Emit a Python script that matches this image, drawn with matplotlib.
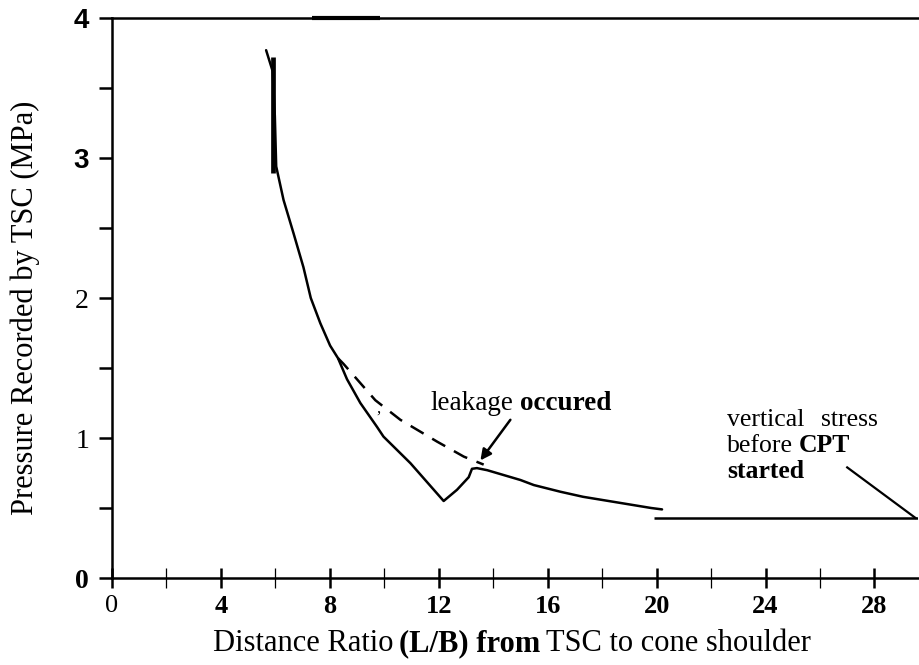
import matplotlib
matplotlib.use("Agg")
import matplotlib.pyplot as plt

SERIF = "Liberation Serif"
SANS = "Liberation Sans"

# measured TSC pressure vs distance ratio L/B
dist_ratio = [5.66, 5.90, 5.98, 6.03, 6.30, 6.67, 7.03, 7.30, 7.65, 8.01,
              8.30, 8.63, 9.12, 9.73, 9.97, 10.96, 12.18, 12.67, 13.10, 13.22,
              13.40, 13.78, 15.00, 15.49, 16.47, 17.30, 19.80, 20.20]
pressure = [3.77, 3.62, 3.30, 2.94, 2.70, 2.46, 2.22, 2.00, 1.82, 1.66,
            1.57, 1.42, 1.25, 1.08, 1.01, 0.82, 0.55, 0.63, 0.72, 0.78,
            0.785, 0.77, 0.70, 0.664, 0.616, 0.58, 0.50, 0.49]

# expected trend without leakage
trend_ratio = [8.30, 8.50, 9.67, 10.59, 11.94, 12.92, 13.65]
trend_pressure = [1.57, 1.53, 1.27, 1.13, 0.974, 0.867, 0.81]

# spike near the start of the record
spike_x = 5.93
spike_range = (2.89, 3.72)

vertical_stress = 0.43
vs_range = (19.9, 29.6)

x_ticks = [0, 4, 8, 12, 16, 20, 24, 28]
y_ticks = [0, 1, 2, 3, 4]

fig = plt.figure(figsize=(9.2, 6.65), dpi=100)
ax = fig.add_axes([112 / 920, 1 - 578 / 665, 806 / 920, 560 / 665])

ax.plot(dist_ratio, pressure, color="black", lw=1.8, solid_capstyle="round",
        solid_joinstyle="round")
ax.plot(trend_ratio, trend_pressure, color="black", lw=1.8,
        linestyle=(0, (6, 4)))
ax.vlines(spike_x, *spike_range, color="black", lw=3.4)
ax.hlines(vertical_stress, *vs_range, color="black", lw=1.8)
ax.hlines(4, 7.35, 9.85, color="black", lw=3, clip_on=False)
ax.text(9.8, 1.21, ",", fontsize=12, family=SERIF, ha="center", va="center")

ax.set_xlim(0, 29.6)
ax.set_ylim(0, 4)

for side in ["left", "bottom", "top"]:
    ax.spines[side].set_linewidth(1.8)
ax.spines["right"].set_visible(False)

ax.set_xticks(x_ticks)
ax.set_xticks([2, 6, 10, 14, 18, 22, 26], minor=True)
ax.set_yticks(y_ticks)
ax.set_yticks([0.5, 1.5, 2.5, 3.5], minor=True)
ax.tick_params(axis="x", which="major", direction="inout", length=14,
               width=1.8, pad=5)
ax.tick_params(axis="x", which="minor", direction="inout", length=14,
               width=0.9)
ax.tick_params(axis="y", which="both", direction="out", length=9.5,
               width=1.8, pad=7)

ax.set_xticklabels([str(v) for v in x_ticks], fontsize=19,
                   family=SERIF, fontweight="bold")
ax.xaxis.get_ticklabels()[0].set_fontweight("normal")
ax.set_yticklabels([str(v) for v in y_ticks], fontsize=20)
ylab_style = {0: (SERIF, "bold"), 1: (SERIF, "normal"), 2: (SERIF, "normal"),
              3: (SANS, "bold"), 4: (SANS, "bold")}
for lab, v in zip(ax.yaxis.get_ticklabels(), y_ticks):
    lab.set_family(ylab_style[v][0])
    lab.set_fontweight(ylab_style[v][1])

fig.text(25 / 920, 1 - 308 / 665, "Pressure Recorded by TSC (MPa)",
         rotation=90, ha="center", va="center", fontsize=22, family=SERIF)


def put_runs(x, y, runs, size, transform, gap=4):
    # lay out regular/bold pieces of one line side by side
    prev = None
    for s, wt in runs:
        if prev is None:
            prev = ax.text(x, y, s, transform=transform, fontsize=size,
                           family=SERIF, fontweight=wt, va="bottom")
        else:
            prev = ax.annotate(s, xy=(1, 0), xycoords=prev,
                               xytext=(gap, 0), textcoords="offset points",
                               fontsize=size, family=SERIF, fontweight=wt,
                               va="bottom", ha="left")
    return prev


put_runs(213 / 920, 1 - 658 / 665,
         [("Distance Ratio", "normal"), ("(L/B) from", "bold"),
          ("TSC to cone shoulder", "normal")], 22, fig.transFigure)

put_runs(11.69, 1.16, [("leakage", "normal"), ("occured", "bold")], 19.5,
         ax.transData, gap=5)
ax.annotate("", xy=(13.53, 0.84), xytext=(14.63, 1.13),
            arrowprops=dict(arrowstyle="-|>", color="black", lw=1.8,
                            mutation_scale=16, shrinkA=0, shrinkB=0))

put_runs(22.6, 1.05, [("vertical", "normal"), ("stress", "normal")], 18.5,
         ax.transData, gap=12)
put_runs(22.6, 0.865, [("before", "normal"), ("CPT", "bold")], 18.5,
         ax.transData)
put_runs(22.6, 0.68, [("started", "bold")], 18.5, ax.transData)
ax.plot([27.0, 29.5], [0.79, 0.43], color="black", lw=1.6, clip_on=False)

fig.savefig("out.png", dpi=100)
